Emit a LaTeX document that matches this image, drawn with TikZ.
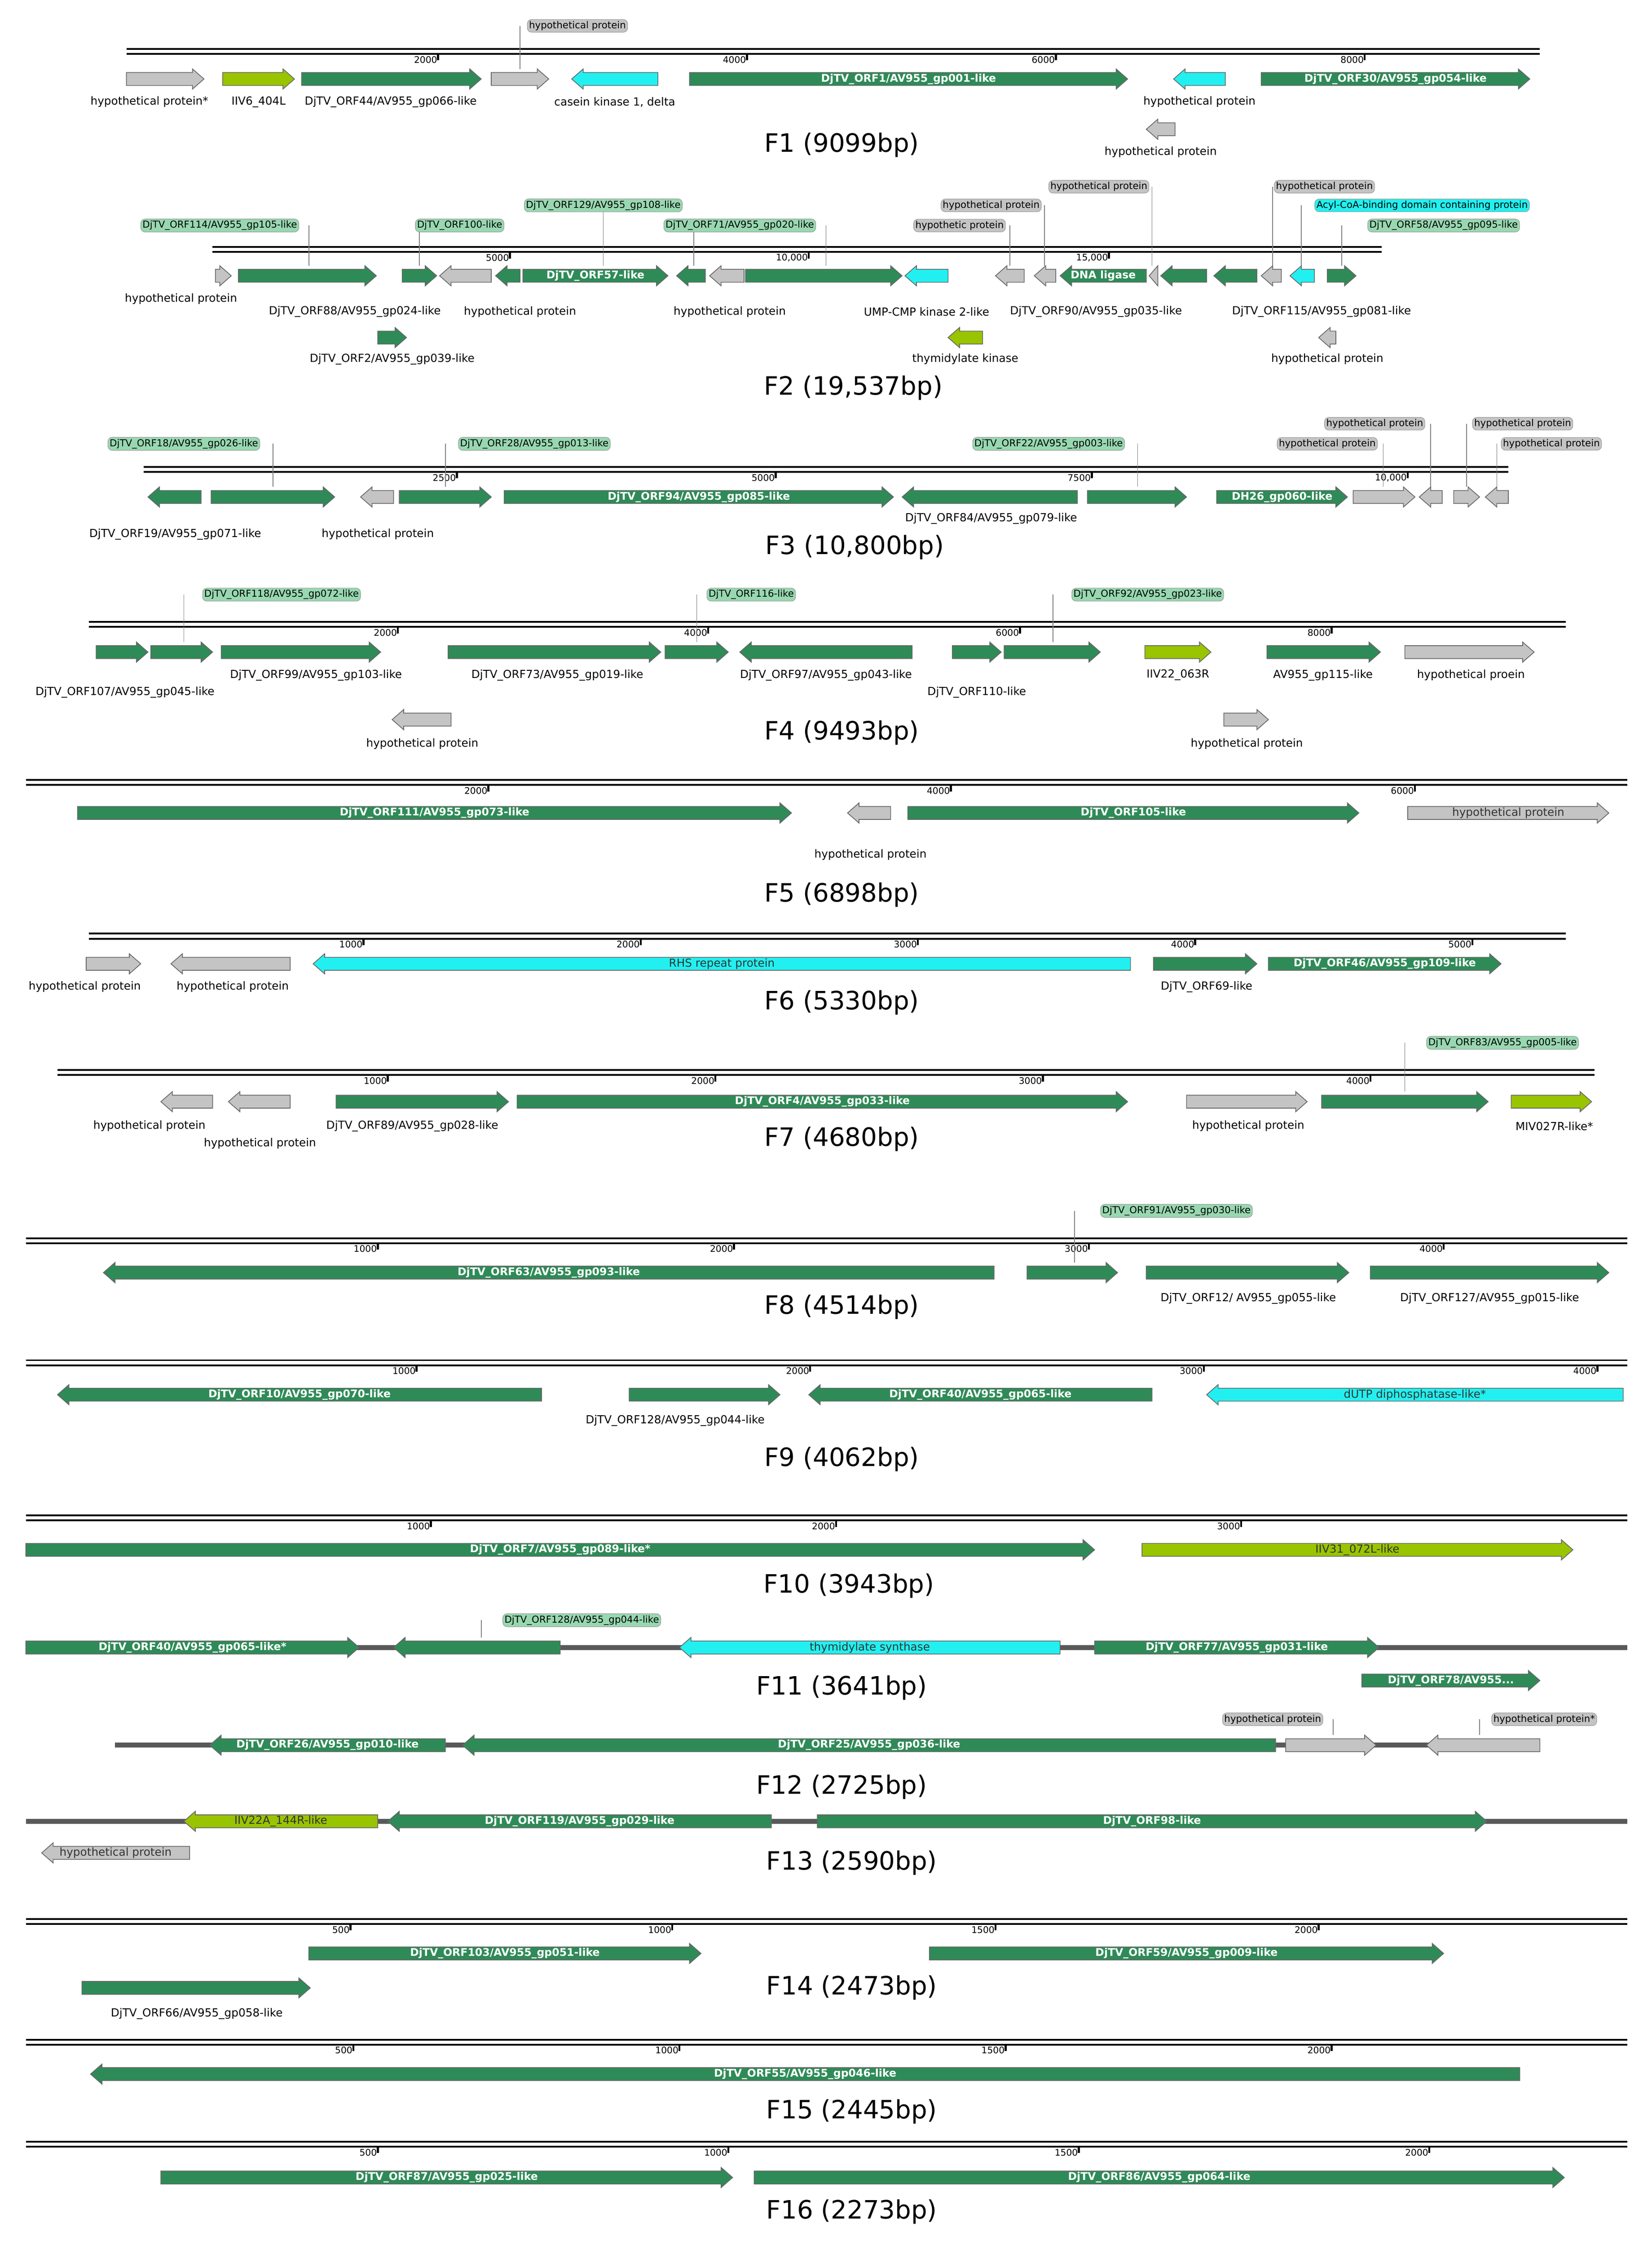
\documentclass[tikz,border=0pt]{standalone}
\usepackage{fontspec}
\setmainfont{DejaVu Sans}
\definecolor{gg}{HTML}{2E8B57}
\definecolor{gc}{HTML}{22F0F0}
\definecolor{gy}{HTML}{99C400}
\definecolor{gr}{HTML}{C4C4C4}
\definecolor{lg}{HTML}{98D8B0}
\tikzset{
 gene/.style={draw=black!60,line width=1.5pt},
 inw/.style={text=white,font=\fontsize{21}{21}\selectfont\bfseries,inner sep=0},
 ind/.style={text=black!80,font=\fontsize{22}{22}\selectfont,inner sep=0},
 lab/.style={font=\fontsize{22}{22}\selectfont,inner sep=0},
 co/.style={rounded corners=3mm,draw=black!40,line width=1pt,font=\fontsize{19}{19}\selectfont,inner sep=1.2mm},
 ttl/.style={font=\fontsize{50}{50}\selectfont},
 tkl/.style={font=\fontsize{18}{18}\selectfont,inner sep=0.6mm,anchor=east},
 bbl/.style={line width=3.5pt},
 gline/.style={draw=black!65,line width=10pt}
}
\newcommand\gfw[6]{\filldraw[gene,fill=#4] (#1,#3-4.5) -- ({max(#1,#2-8)},#3-4.5) -- ({max(#1,#2-8)},#3-7) -- (#2,#3) -- ({max(#1,#2-8)},#3+7) -- ({max(#1,#2-8)},#3+4.5) -- (#1,#3+4.5) -- cycle; \node[#5] at ({(#1+#2)/2},#3) {#6};}
\newcommand\grv[6]{\filldraw[gene,fill=#4] (#2,#3-4.5) -- ({min(#2,#1+8)},#3-4.5) -- ({min(#2,#1+8)},#3-7) -- (#1,#3) -- ({min(#2,#1+8)},#3+7) -- ({min(#2,#1+8)},#3+4.5) -- (#2,#3+4.5) -- cycle; \node[#5] at ({(#1+#2)/2},#3) {#6};}
\newcommand\bbone[3]{\draw[bbl] (#1,#3) -- (#2,#3); \draw[bbl] (#1,#3+3.5) -- (#2,#3+3.5);}
\newcommand\tck[3]{\draw[line width=4pt] (#1,#2+3.5) -- (#1,#2+8); \node[tkl] at (#1,#2+7.5) {#3};}
\newcommand\lbl[3]{\node[lab] at (#1,#2) {#3};}
\newcommand\cout[6]{\draw[black!50,line width=1.5pt] (#3,#2) -- (#3,#4-7); \node[co,fill=#5] at (#1,#2) {#6};}
\begin{document}
\begin{tikzpicture}[x=1mm,y=-1mm]
\useasboundingbox[fill=white] (0,0) rectangle (1150,1563);
% F1
\bbone{88}{1072}{34}
\tck{305}{34}{2000}\tck{520}{34}{4000}\tck{735}{34}{6000}\tck{950}{34}{8000}
\gfw{88}{142}{55}{gr}{lab}{}\lbl{104}{71}{hypothetical protein*}
\gfw{155}{205}{55}{gy}{lab}{}\lbl{180}{71}{IIV6\_404L}
\gfw{210}{335}{55}{gg}{lab}{}\lbl{272}{71}{DjTV\_ORF44/AV955\_gp066-like}
\cout{402}{18}{362}{55}{gr}{hypothetical protein}
\gfw{342}{382}{55}{gr}{lab}{}
\grv{398}{458}{55}{gc}{lab}{}\lbl{428}{71}{casein kinase 1,  delta}
\gfw{480}{785}{55}{gg}{inw}{DjTV\_ORF1/AV955\_gp001-like}
\grv{817}{853}{55}{gc}{lab}{}\lbl{835}{71}{hypothetical  protein}
\gfw{878}{1065}{55}{gg}{inw}{DjTV\_ORF30/AV955\_gp054-like}
\grv{798}{818}{90}{gr}{lab}{}\lbl{808}{106}{hypothetical protein}
\node[ttl] (t1) at (586,101) {F1 (9099bp)};
% F2
\bbone{148}{962}{172}
\tck{355}{172}{5000}\tck{563}{172}{10,000}\tck{772}{172}{15,000}
\cout{153}{157}{215}{192}{lg}{DjTV\_ORF114/AV955\_gp105-like}
\cout{320}{157}{292}{192}{lg}{DjTV\_ORF100-like}
\cout{420}{143}{420}{192}{lg}{DjTV\_ORF129/AV955\_gp108-like}
\cout{515}{157}{483}{192}{lg}{DjTV\_ORF71/AV955\_gp020-like}
\draw[black!50,line width=1.5pt] (575,157) -- (575,185);
\cout{668}{157}{703}{192}{gr}{hypothetic protein}
\cout{690}{143}{727}{192}{gr}{hypothetical protein}
\cout{765}{130}{802}{192}{gr}{hypothetical protein}
\cout{922}{130}{886}{192}{gr}{hypothetical protein}
\cout{990}{143}{906}{192}{gc}{Acyl-CoA-binding  domain containing  protein}
\cout{1005}{157}{934}{192}{lg}{DjTV\_ORF58/AV955\_gp095-like}
\gfw{150}{161}{192}{gr}{lab}{}\lbl{126}{208}{hypothetical protein}
\gfw{166}{262}{192}{gg}{lab}{}\lbl{247}{217}{DjTV\_ORF88/AV955\_gp024-like}
\gfw{280}{304}{192}{gg}{lab}{}
\grv{306}{342}{192}{gr}{lab}{}\lbl{362}{217}{hypothetical protein}
\grv{345}{362}{192}{gg}{lab}{}
\gfw{364}{465}{192}{gg}{inw}{DjTV\_ORF57-like}
\grv{471}{491}{192}{gg}{lab}{}
\grv{494}{518}{192}{gr}{lab}{}\lbl{508}{217}{hypothetical protein}
\gfw{519}{628}{192}{gg}{lab}{}
\grv{630}{660}{192}{gc}{lab}{}\lbl{645}{217}{UMP-CMP kinase 2-like}
\grv{693}{713}{192}{gr}{lab}{}
\grv{720}{735}{192}{gr}{lab}{}
\grv{738}{798}{192}{gg}{inw}{DNA ligase}\lbl{763}{217}{DjTV\_ORF90/AV955\_gp035-like}
\grv{800}{806}{192}{gr}{lab}{}
\grv{808}{840}{192}{gg}{lab}{}\lbl{920}{217}{DjTV\_ORF115/AV955\_gp081-like}
\grv{845}{875}{192}{gg}{lab}{}
\grv{878}{892}{192}{gr}{lab}{}
\grv{898}{915}{192}{gc}{lab}{}
\gfw{924}{944}{192}{gg}{lab}{}
\gfw{263}{283}{235}{gg}{lab}{}\lbl{273}{250}{DjTV\_ORF2/AV955\_gp039-like}
\grv{660}{684}{235}{gy}{lab}{}\lbl{672}{250}{thymidylate kinase}
\grv{918}{930}{235}{gr}{lab}{}\lbl{924}{250}{hypothetical protein}
\node[ttl] (t2) at (594,270) {F2 (19,537bp)};
% F3
\bbone{100}{1050}{325}
\tck{318}{325}{2500}\tck{540}{325}{5000}\tck{760}{325}{7500}\tck{980}{325}{10,000}
\cout{128}{309}{190}{346}{lg}{DjTV\_ORF18/AV955\_gp026-like}
\cout{372}{309}{310}{346}{lg}{DjTV\_ORF28/AV955\_gp013-like}
\cout{730}{309}{792}{346}{lg}{DjTV\_ORF22/AV955\_gp003-like}
\cout{924}{309}{963}{346}{gr}{hypothetical protein}
\cout{957}{295}{996}{346}{gr}{hypothetical protein}
\cout{1060}{295}{1021}{346}{gr}{hypothetical protein}
\cout{1080}{309}{1042}{346}{gr}{hypothetical protein}
\grv{103}{140}{346}{gg}{lab}{}\lbl{122}{372}{DjTV\_ORF19/AV955\_gp071-like}
\gfw{147}{233}{346}{gg}{lab}{}
\grv{251}{274}{346}{gr}{lab}{}\lbl{263}{372}{hypothetical protein}
\gfw{278}{342}{346}{gg}{lab}{}
\gfw{351}{622}{346}{gg}{inw}{DjTV\_ORF94/AV955\_gp085-like}
\grv{628}{750}{346}{gg}{lab}{}\lbl{690}{361}{DjTV\_ORF84/AV955\_gp079-like}
\gfw{757}{826}{346}{gg}{lab}{}
\gfw{847}{938}{346}{gg}{inw}{DH26\_gp060-like}
\gfw{942}{985}{346}{gr}{lab}{}
\grv{988}{1004}{346}{gr}{lab}{}
\gfw{1012}{1030}{346}{gr}{lab}{}
\grv{1034}{1050}{346}{gr}{lab}{}
\node[ttl] (t3) at (595,381) {F3 (10,800bp)};
% F4
\bbone{62}{1090}{433}
\tck{277}{433}{2000}\tck{493}{433}{4000}\tck{710}{433}{6000}\tck{927}{433}{8000}
\cout{196}{414}{128}{454}{lg}{DjTV\_ORF118/AV955\_gp072-like}
\cout{523}{414}{485}{454}{lg}{DjTV\_ORF116-like}
\cout{799}{414}{733}{454}{lg}{DjTV\_ORF92/AV955\_gp023-like}
\gfw{67}{103}{454}{gg}{lab}{}\lbl{87}{482}{DjTV\_ORF107/AV955\_gp045-like}
\gfw{105}{148}{454}{gg}{lab}{}
\gfw{154}{265}{454}{gg}{lab}{}\lbl{220}{470}{DjTV\_ORF99/AV955\_gp103-like}
\gfw{312}{460}{454}{gg}{lab}{}\lbl{388}{470}{DjTV\_ORF73/AV955\_gp019-like}
\gfw{463}{507}{454}{gg}{lab}{}
\grv{515}{635}{454}{gg}{lab}{}\lbl{575}{470}{DjTV\_ORF97/AV955\_gp043-like}
\gfw{663}{697}{454}{gg}{lab}{}\lbl{680}{482}{DjTV\_ORF110-like}
\gfw{699}{766}{454}{gg}{lab}{}
\gfw{797}{843}{454}{gy}{lab}{}\lbl{820}{470}{IIV22\_063R}
\gfw{882}{961}{454}{gg}{lab}{}\lbl{921}{470}{AV955\_gp115-like}
\gfw{978}{1068}{454}{gr}{lab}{}\lbl{1024}{470}{hypothetical proein}
\grv{273}{314}{501}{gr}{lab}{}\lbl{294}{518}{hypothetical protein}
\gfw{852}{883}{501}{gr}{lab}{}\lbl{868}{518}{hypothetical protein}
\node[ttl] (t4) at (586,510) {F4 (9493bp)};
% F5
\bbone{18}{1133}{543}
\tck{340}{543}{2000}\tck{662}{543}{4000}\tck{985}{543}{6000}
\gfw{54}{551}{566}{gg}{inw}{DjTV\_ORF111/AV955\_gp073-like}
\grv{590}{620}{566}{gr}{lab}{}\lbl{606}{595}{hypothetical protein}
\gfw{632}{946}{566}{gg}{inw}{DjTV\_ORF105-like}
\gfw{980}{1120}{566}{gr}{ind}{hypothetical protein}
\node[ttl] (t5) at (586,623) {F5 (6898bp)};
% F6
\bbone{62}{1090}{650}
\tck{253}{650}{1000}\tck{446}{650}{2000}\tck{639}{650}{3000}\tck{832}{650}{4000}\tck{1025}{650}{5000}
\gfw{60}{98}{671}{gr}{lab}{}\lbl{59}{687}{hypothetical protein}
\grv{119}{202}{671}{gr}{lab}{}\lbl{162}{687}{hypothetical protein}
\grv{218}{787}{671}{gc}{ind}{RHS repeat protein}
\gfw{803}{875}{671}{gg}{lab}{}\lbl{840}{687}{DjTV\_ORF69-like}
\gfw{883}{1045}{671}{gg}{inw}{DjTV\_ORF46/AV955\_gp109-like}
\node[ttl] (t6) at (586,698) {F6 (5330bp)};
% F7
\bbone{40}{1110}{745}
\tck{270}{745}{1000}\tck{498}{745}{2000}\tck{726}{745}{3000}\tck{954}{745}{4000}
\cout{1046}{726}{978}{767}{lg}{DjTV\_ORF83/AV955\_gp005-like}
\grv{112}{148}{767}{gr}{lab}{}\lbl{104}{784}{hypothetical  protein}
\grv{159}{202}{767}{gr}{lab}{}\lbl{181}{796}{hypothetical  protein}
\gfw{234}{354}{767}{gg}{lab}{}\lbl{287}{784}{DjTV\_ORF89/AV955\_gp028-like}
\gfw{360}{785}{767}{gg}{inw}{DjTV\_ORF4/AV955\_gp033-like}
\gfw{826}{910}{767}{gr}{lab}{}\lbl{869}{784}{hypothetical  protein}
\gfw{920}{1036}{767}{gg}{lab}{}
\gfw{1052}{1108}{767}{gy}{lab}{}\lbl{1082}{784}{MIV027R-like*}
\node[ttl] (t7) at (586,793) {F7 (4680bp)};
% F8
\bbone{18}{1133}{862}
\tck{263}{862}{1000}\tck{511}{862}{2000}\tck{758}{862}{3000}\tck{1005}{862}{4000}
\cout{819}{843}{748}{886}{lg}{DjTV\_ORF91/AV955\_gp030-like}
\grv{72}{692}{886}{gg}{inw}{DjTV\_ORF63/AV955\_gp093-like}
\gfw{715}{778}{886}{gg}{lab}{}
\gfw{798}{939}{886}{gg}{lab}{}\lbl{869}{904}{DjTV\_ORF12/  AV955\_gp055-like}
\gfw{954}{1120}{886}{gg}{lab}{}\lbl{1037}{904}{DjTV\_ORF127/AV955\_gp015-like}
\node[ttl] (t8) at (586,910) {F8 (4514bp)};
% F9
\bbone{18}{1133}{947}
\tck{290}{947}{1000}\tck{564}{947}{2000}\tck{838}{947}{3000}\tck{1112}{947}{4000}
\grv{40}{377}{971}{gg}{inw}{DjTV\_ORF10/AV955\_gp070-like}
\gfw{438}{543}{971}{gg}{lab}{}\lbl{470}{989}{DjTV\_ORF128/AV955\_gp044-like}
\grv{563}{802}{971}{gg}{inw}{DjTV\_ORF40/AV955\_gp065-like}
\grv{840}{1130}{971}{gc}{ind}{dUTP diphosphatase-like*}
\node[ttl] (t9) at (586,1016) {F9 (4062bp)};
% F10
\bbone{18}{1133}{1055}
\tck{300}{1055}{1000}\tck{582}{1055}{2000}\tck{864}{1055}{3000}
\gfw{18}{762}{1079}{gg}{inw}{DjTV\_ORF7/AV955\_gp089-like*}
\gfw{795}{1095}{1079}{gy}{ind}{IIV31\_072L-like}
\node[ttl] (t10) at (591,1104) {F10 (3943bp)};
% F11
\draw[gline] (18,1147) -- (1133,1147);
\cout{405}{1128}{335}{1147}{lg}{DjTV\_ORF128/AV955\_gp044-like}
\gfw{18}{250}{1147}{gg}{inw}{DjTV\_ORF40/AV955\_gp065-like*}
\grv{274}{390}{1147}{gg}{lab}{}
\grv{473}{738}{1147}{gc}{ind}{thymidylate synthase}
\gfw{762}{960}{1147}{gg}{inw}{DjTV\_ORF77/AV955\_gp031-like}
\gfw{948}{1072}{1170}{gg}{inw}{DjTV\_ORF78/AV955...}
\node[ttl] (t11) at (586,1175) {F11 (3641bp)};
% F12
\draw[gline] (80,1215) -- (1070,1215);
\cout{886}{1197}{928}{1215}{gr}{hypothetical  protein}
\cout{1075}{1197}{1030}{1215}{gr}{hypothetical  protein*}
\grv{146}{310}{1215}{gg}{inw}{DjTV\_ORF26/AV955\_gp010-like}
\grv{322}{888}{1215}{gg}{inw}{DjTV\_ORF25/AV955\_gp036-like}
\gfw{895}{958}{1215}{gr}{lab}{}
\grv{993}{1072}{1215}{gr}{lab}{}
\node[ttl] (t12) at (586,1244) {F12 (2725bp)};
% F13
\draw[gline] (18,1268) -- (1133,1268);
\grv{128}{263}{1268}{gy}{ind}{IIV22A\_144R-like}
\grv{270}{537}{1268}{gg}{inw}{DjTV\_ORF119/AV955\_gp029-like}
\gfw{569}{1035}{1268}{gg}{inw}{DjTV\_ORF98-like}
\grv{29}{132}{1290}{gr}{ind}{hypothetical protein}
\node[ttl] (t13) at (593,1297) {F13 (2590bp)};
% F14
\bbone{18}{1133}{1336}
\tck{244}{1336}{500}\tck{468}{1336}{1000}\tck{693}{1336}{1500}\tck{918}{1336}{2000}
\gfw{215}{488}{1360}{gg}{inw}{DjTV\_ORF103/AV955\_gp051-like}
\gfw{647}{1005}{1360}{gg}{inw}{DjTV\_ORF59/AV955\_gp009-like}
\gfw{57}{216}{1384}{gg}{lab}{}\lbl{137}{1402}{DjTV\_ORF66/AV955\_gp058-like}
\node[ttl] (t14) at (593,1384) {F14 (2473bp)};
% F15
\bbone{18}{1133}{1420}
\tck{246}{1420}{500}\tck{473}{1420}{1000}\tck{700}{1420}{1500}\tck{927}{1420}{2000}
\grv{63}{1058}{1444}{gg}{inw}{DjTV\_ORF55/AV955\_gp046-like}
\node[ttl] (t15) at (593,1470) {F15 (2445bp)};
% F16
\bbone{18}{1133}{1491}
\tck{263}{1491}{500}\tck{507}{1491}{1000}\tck{751}{1491}{1500}\tck{995}{1491}{2000}
\gfw{112}{510}{1516}{gg}{inw}{DjTV\_ORF87/AV955\_gp025-like}
\gfw{525}{1089}{1516}{gg}{inw}{DjTV\_ORF86/AV955\_gp064-like}
\node[ttl] (t16) at (593,1540) {F16 (2273bp)};
\end{tikzpicture}
\end{document}
